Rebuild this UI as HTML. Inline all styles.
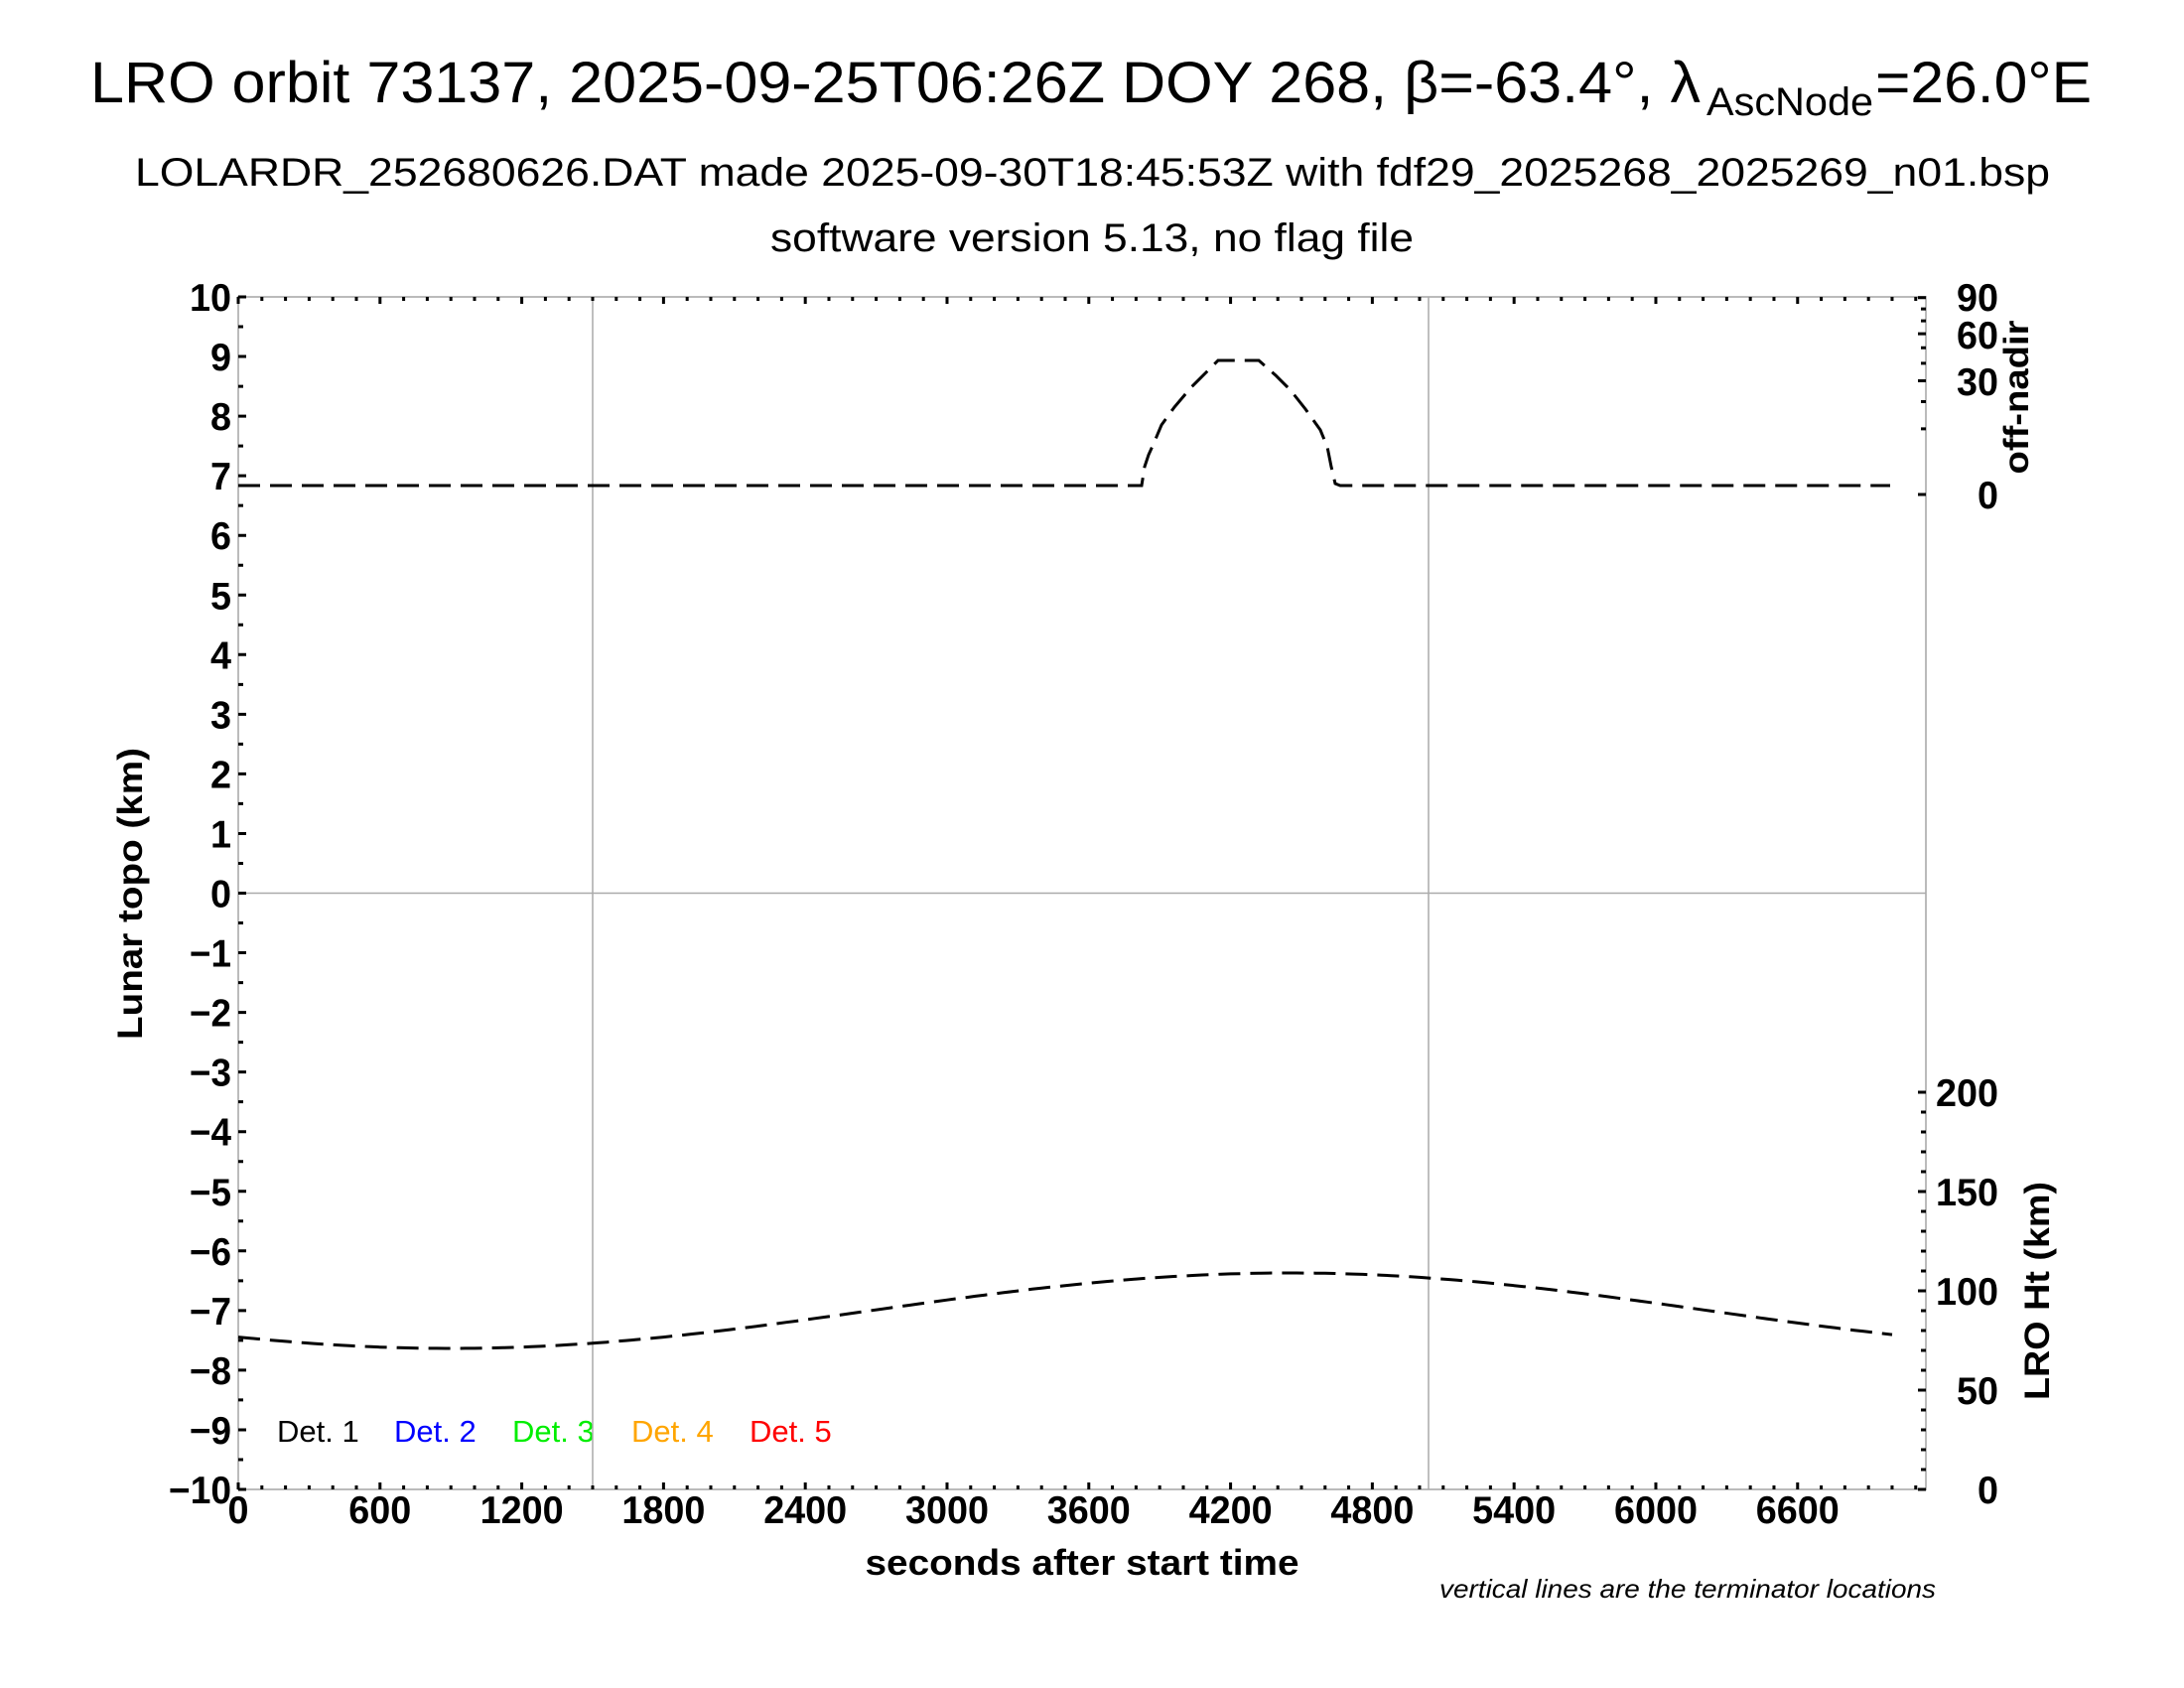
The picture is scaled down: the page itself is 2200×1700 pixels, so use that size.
<!DOCTYPE html>
<html><head><meta charset="utf-8"><style>
html,body{margin:0;padding:0;background:#fff;}
svg{display:block;font-family:"Liberation Sans",sans-serif;}
</style></head><body>
<svg id="s" width="2200" height="1700" viewBox="0 0 2200 1700" xmlns="http://www.w3.org/2000/svg">
<rect width="2200" height="1700" fill="#fff"/>
<g fill="#000">
<text x="91" y="103" font-size="58" textLength="1622" lengthAdjust="spacingAndGlyphs">LRO orbit 73137, 2025-09-25T06:26Z DOY 268, β=-63.4°, λ</text>
<text x="1719" y="116" font-size="40" textLength="168" lengthAdjust="spacingAndGlyphs">AscNode</text>
<text x="1889" y="103" font-size="58" textLength="218" lengthAdjust="spacingAndGlyphs">=26.0°E</text>
<text x="136" y="187" font-size="40" textLength="1929" lengthAdjust="spacingAndGlyphs">LOLARDR_252680626.DAT made 2025-09-30T18:45:53Z with fdf29_2025268_2025269_n01.bsp</text>
<text x="776" y="253" font-size="40" textLength="648" lengthAdjust="spacingAndGlyphs">software version 5.13, no flag file</text>
<text x="1090" y="1586" font-size="36" font-weight="bold" text-anchor="middle" textLength="437" lengthAdjust="spacingAndGlyphs">seconds after start time</text>
<text x="1950" y="1609" font-size="26" font-style="italic" text-anchor="end" textLength="500" lengthAdjust="spacingAndGlyphs">vertical lines are the terminator locations</text>
<text transform="translate(143,900) rotate(-90)" font-size="35" font-weight="bold" text-anchor="middle" textLength="294" lengthAdjust="spacingAndGlyphs">Lunar topo (km)</text>
<text transform="translate(2043,400) rotate(-90)" font-size="35" font-weight="bold" text-anchor="middle" textLength="155" lengthAdjust="spacingAndGlyphs">off-nadir</text>
<text transform="translate(2064,1300) rotate(-90)" font-size="35" font-weight="bold" text-anchor="middle" textLength="220" lengthAdjust="spacingAndGlyphs">LRO Ht (km)</text>
<text x="279" y="1452" font-size="31" fill="#000">Det. 1</text>
<text x="397" y="1452" font-size="31" fill="#0000ff">Det. 2</text>
<text x="516" y="1452" font-size="31" fill="#00ee00">Det. 3</text>
<text x="636" y="1452" font-size="31" fill="#ffa500">Det. 4</text>
<text x="755" y="1452" font-size="31" fill="#ff0000">Det. 5</text>
</g>
<g id="g"></g>
</svg>
<script>
var NS="http://www.w3.org/2000/svg",g=document.getElementById("g");
function el(t,a,txt){var e=document.createElementNS(NS,t);for(var k in a)e.setAttribute(k,a[k]);if(txt!==undefined)e.textContent=txt;g.appendChild(e);return e;}
var L=240,R=1940,T=299,B=1500;
function X(s){return L+s*(R-L)/7143;}
function Y(k){return T+(10-k)*(B-T)/20;}
el("rect",{x:L,y:T,width:R-L,height:B-T,fill:"none",stroke:"#bbb","stroke-width":2});
el("line",{x1:X(1500),y1:T,x2:X(1500),y2:B,stroke:"#aaa","stroke-width":1.5});
el("line",{x1:1439,y1:T,x2:1439,y2:B,stroke:"#aaa","stroke-width":1.5});
el("line",{x1:L,y1:Y(0),x2:R,y2:Y(0),stroke:"#aaa","stroke-width":1.5});
var d="";
for(var s=0;s<=7100;s+=100){var x=X(s),len=(s%600==0)?7:4;d+="M"+x+" "+B+"v-"+len+"M"+x+" "+T+"v"+len;}
for(var k=-10;k<=10;k+=0.5){var y=Y(k),len=(k%1==0)?8:5;d+="M"+L+" "+y+"h"+len;}
for(var h=0;h<=200;h+=10){var y=1500-2*h;d+="M"+R+" "+y+"h-"+((h%50==0)?8:5);}
for(var a=0;a<=90;a+=10){var y=498-20.9*Math.sqrt(a);d+="M"+R+" "+y+"h-"+((a%30==0)?8:5);}
el("path",{d:d,stroke:"#000","stroke-width":3,fill:"none"});
function lab(x,y,t,anchor){var n=t.length;el("text",{x:x,y:y,"font-size":39,"font-weight":"bold","text-anchor":anchor,textLength:21*n,lengthAdjust:"spacingAndGlyphs"},t);}
for(var k=-10;k<=10;k++){lab(233,Y(k)+14,(k<0?"\u2212":"")+Math.abs(k),"end");}
for(var s=0;s<=6600;s+=600){lab(X(s),1534,""+s,"middle");}
[0,50,100,150,200].forEach(function(h){lab(2013,1500-2*h+14,""+h,"end");});
[[0,498],[30,384],[60,337],[90,299]].forEach(function(p){lab(2013,p[1]+14,""+p[0],"end");});
var on=[[240,489],[1150,489],[1153,470],[1157,458],[1162,447],[1170,428],[1183,410],[1200,390],[1215,375],[1227,363],[1268,363],[1285,378],[1300,393],[1315,412],[1330,433],[1337,450],[1341,470],[1345,487],[1350,489],[1904,489]];
el("polyline",{points:on.map(function(p){return p.join(",");}).join(" "),fill:"none",stroke:"#000","stroke-width":3,"stroke-dasharray":"22 10"});
var pts=[];
for(var s=0;s<=7000;s+=40){var y=1320+38*Math.cos(2*Math.PI*(s-900)/7100);pts.push(X(s).toFixed(1)+","+y.toFixed(1));}
el("polyline",{points:pts.join(" "),fill:"none",stroke:"#000","stroke-width":3,"stroke-dasharray":"22 10"});
</script>
</body></html>
